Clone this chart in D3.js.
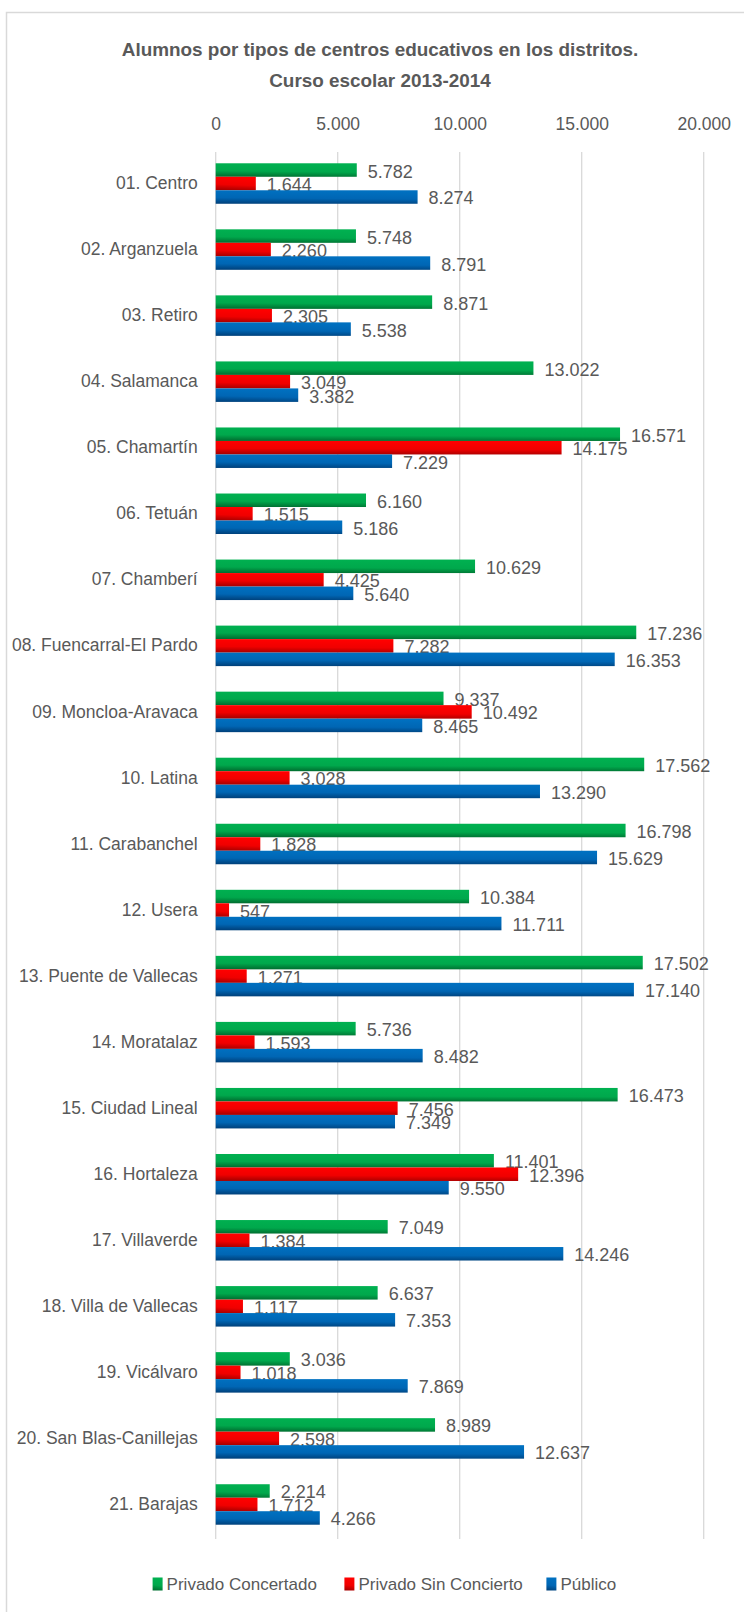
<!DOCTYPE html>
<html><head><meta charset="utf-8">
<script src="https://cdn.jsdelivr.net/npm/d3@7"></script>
<style>body{margin:0;background:#fff}svg{display:block}</style>
</head><body>
<script>
const categories = ["01. Centro","02. Arganzuela","03. Retiro","04. Salamanca","05. Chamartín","06. Tetuán","07. Chamberí","08. Fuencarral-El Pardo","09. Moncloa-Aravaca","10. Latina","11. Carabanchel","12. Usera","13. Puente de Vallecas","14. Moratalaz","15. Ciudad Lineal","16. Hortaleza","17. Villaverde","18. Villa de Vallecas","19. Vicálvaro","20. San Blas-Canillejas","21. Barajas"];
const privadoConcertado = [5782,5748,8871,13022,16571,6160,10629,17236,9337,17562,16798,10384,17502,5736,16473,11401,7049,6637,3036,8989,2214];
const privadoSinConcierto = [1644,2260,2305,3049,14175,1515,4425,7282,10492,3028,1828,547,1271,1593,7456,12396,1384,1117,1018,2598,1712];
const publico = [8274,8791,5538,3382,7229,5186,5640,16353,8465,13290,15629,11711,17140,8482,7349,9550,14246,7353,7869,12637,4266];
const seriesNames = ["Privado Concertado","Privado Sin Concierto","Público"];
const xTicks = [0,5000,10000,15000,20000];
const titleLines = ["Alumnos por tipos de centros educativos en los distritos.","Curso escolar 2013-2014"];

const W=744,H=1612;
const svg=d3.select("body").append("svg").attr("width",W).attr("height",H);
const defs=svg.append("defs");
const grads=[["g0","#006a2e","#00a84c","#00b050"],["g1","#a00000","#f00000","#ff0000"],["g2","#003f78","#0066b4","#0070c0"]];
grads.forEach(([id,d,m,b])=>{
  const g=defs.append("linearGradient").attr("id",id).attr("x1",0).attr("y1",1).attr("x2",0.12).attr("y2",0);
  g.append("stop").attr("offset",0).attr("stop-color",d);
  g.append("stop").attr("offset",0.45).attr("stop-color",m);
  g.append("stop").attr("offset",1).attr("stop-color",b);
});

// chart border
svg.append("path").attr("d","M744,12.5 H6.5 V1612").attr("fill","none").attr("stroke","#d9d9d9").attr("stroke-width",1.5);

const txt="#595959";
const sans="'Liberation Sans', Arial, sans-serif";
svg.selectAll("text.title").data(titleLines).join("text").attr("class","title")
  .attr("x",380).attr("y",(d,i)=>56+i*31).attr("text-anchor","middle")
  .attr("font-family",sans).attr("font-weight","bold").attr("font-size",18.9).attr("fill",txt).text(d=>d);

const x=d3.scaleLinear().domain([0,20000]).range([215.7,703.7]);
const plotTop=152, plotBot=1539;
const y0=d3.scaleBand().domain(categories).range([150.5,1537.5]).paddingInner(0.387).paddingOuter(0.1935);
const y1=d3.scaleBand().domain([0,1,2]).range([0,y0.bandwidth()]);

// gridlines
svg.append("g").selectAll("line").data(xTicks).join("line")
  .attr("x1",d=>x(d)).attr("x2",d=>x(d)).attr("y1",plotTop).attr("y2",plotBot)
  .attr("stroke","#d9d9d9").attr("stroke-width",1.3);

// top axis
const ax=svg.append("g").attr("transform",`translate(0,${plotTop})`)
  .call(d3.axisTop(x).tickValues(xTicks).tickSize(0).tickPadding(22).tickFormat(d=>d3.format(",")(d).replace(/,/g,".")));
ax.select(".domain").remove();
ax.selectAll("text").attr("font-family",sans).attr("font-size",17.5).attr("fill",txt);

// category axis
const ay=svg.append("g").attr("transform",`translate(${x(0)},0)`)
  .call(d3.axisLeft(y0).tickSize(0).tickPadding(18));
ay.select(".domain").remove();
ay.selectAll("text").attr("font-family",sans).attr("font-size",17.5).attr("fill",txt);

const series=[privadoConcertado,privadoSinConcierto,publico];
const fmt=v=>d3.format(",")(v).replace(/,/g,".");
const groups=svg.append("g").selectAll("g").data(categories).join("g")
  .attr("transform",d=>`translate(0,${y0(d)})`);
// labels first (bars overlap them, like the reference)
groups.each(function(c,ci){
  const g=d3.select(this);
  series.forEach((s,si)=>{
    g.append("text").attr("x",x(s[ci])+11).attr("y",y1(si)+y1.bandwidth()/2+1)
      .attr("dy","0.36em").attr("font-family",sans).attr("font-size",18).attr("fill",txt).text(fmt(s[ci]));
  });
});
groups.each(function(c,ci){
  const g=d3.select(this);
  series.forEach((s,si)=>{
    g.append("rect").attr("x",x(0)).attr("y",y1(si)).attr("width",x(s[ci])-x(0)).attr("height",y1.bandwidth())
      .attr("fill",`url(#g${si})`);
  });
});

// legend
const legX=[152.6,344.4,546.4];
const leg=svg.append("g").selectAll("g").data(seriesNames).join("g").attr("transform",(d,i)=>`translate(${legX[i]},1584)`);
leg.append("rect").attr("x",0).attr("y",-6.5).attr("width",10).attr("height",13).attr("fill",(d,i)=>`url(#g${i})`);
leg.append("text").attr("x",14).attr("y",0).attr("dy","0.36em").attr("font-family",sans).attr("font-size",17).attr("fill",txt).text(d=>d);
</script>
</body></html>
